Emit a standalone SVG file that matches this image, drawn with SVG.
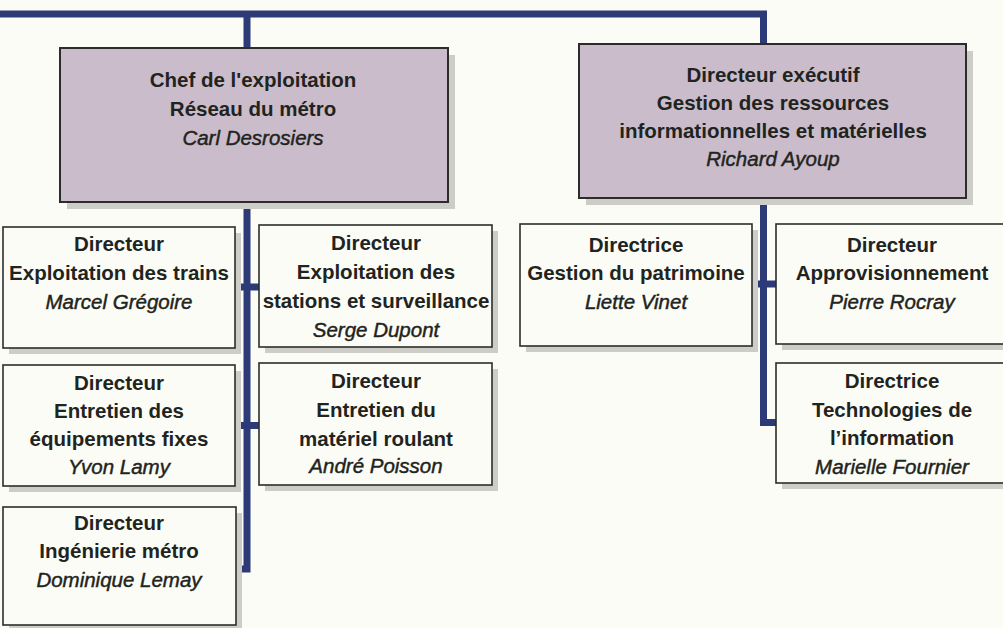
<svg xmlns="http://www.w3.org/2000/svg" width="1003" height="628" viewBox="0 0 1003 628">
<style>
.bg{fill:#fcfcf6}
.shadow{fill:#cdccc7}
.box{fill:#fcfcf6;stroke:#2a2d2a;stroke-width:1.6}
.head{fill:#cbbccb;stroke:#2a2d2a;stroke-width:2}
.conn{fill:none;stroke:#2c3b78;stroke-width:7;stroke-linejoin:miter;stroke-linecap:butt}
text{font-family:"Liberation Sans",Arial,sans-serif;font-size:20.5px;fill:#1f2420;text-anchor:middle}
.b{font-weight:bold}
.i{font-style:italic;stroke:#1f2420;stroke-width:0.45}
</style>
<rect class="bg" x="0" y="0" width="1003" height="628"/>
<g id="connectors">
<path class="conn" d="M0 14 H763.5 V44"/>
<path class="conn" d="M247 14 V48"/>
<path class="conn" d="M247 202 V569 H236"/>
<path class="conn" d="M235 287 H259"/>
<path class="conn" d="M235 425.5 H259"/>
<path class="conn" d="M763.5 198 V422.5 H776"/>
<path class="conn" d="M752 284 H776"/>
</g>
<g id="chef">
<rect class="shadow" x="67" y="55" width="388" height="154"/>
<rect class="head" x="60" y="48" width="388" height="154"/>
<text x="253" y="87" class="b">Chef de l'exploitation</text>
<text x="253" y="116" class="b">Réseau du métro</text>
<text x="253" y="145" class="i">Carl Desrosiers</text>
</g>
<g id="directeur-executif">
<rect class="shadow" x="586" y="51" width="387" height="154"/>
<rect class="head" x="579" y="44" width="387" height="154"/>
<text x="773" y="82" class="b">Directeur exécutif</text>
<text x="773" y="110" class="b">Gestion des ressources</text>
<text x="773" y="138" class="b">informationnelles et matérielles</text>
<text x="773" y="166" class="i">Richard Ayoup</text>
</g>
<g id="exploitation-trains">
<rect class="shadow" x="9" y="233" width="232" height="121"/>
<rect class="box" x="3" y="227" width="232" height="121"/>
<text x="119" y="251" class="b">Directeur</text>
<text x="119" y="280" class="b">Exploitation des trains</text>
<text x="119" y="309" class="i">Marcel Grégoire</text>
</g>
<g id="exploitation-stations">
<rect class="shadow" x="265" y="231" width="233" height="122"/>
<rect class="box" x="259" y="225" width="233" height="122"/>
<text x="376" y="250" class="b">Directeur</text>
<text x="376" y="279" class="b">Exploitation des</text>
<text x="376" y="308" class="b">stations et surveillance</text>
<text x="376" y="337" class="i">Serge Dupont</text>
</g>
<g id="entretien-equipements">
<rect class="shadow" x="9" y="371" width="232" height="121"/>
<rect class="box" x="3" y="365" width="232" height="121"/>
<text x="119" y="390" class="b">Directeur</text>
<text x="119" y="418" class="b">Entretien des</text>
<text x="119" y="446" class="b">équipements fixes</text>
<text x="119" y="474" class="i">Yvon Lamy</text>
</g>
<g id="entretien-materiel">
<rect class="shadow" x="265" y="369" width="233" height="122"/>
<rect class="box" x="259" y="363" width="233" height="122"/>
<text x="376" y="388" class="b">Directeur</text>
<text x="376" y="417" class="b">Entretien du</text>
<text x="376" y="446" class="b">matériel roulant</text>
<text x="376" y="473" class="i">André Poisson</text>
</g>
<g id="ingenierie">
<rect class="shadow" x="9" y="513" width="233" height="118"/>
<rect class="box" x="3" y="507" width="233" height="118"/>
<text x="119" y="530" class="b">Directeur</text>
<text x="119" y="558" class="b">Ingénierie métro</text>
<text x="119" y="587" class="i">Dominique Lemay</text>
</g>
<g id="patrimoine">
<rect class="shadow" x="526" y="230" width="232" height="122"/>
<rect class="box" x="520" y="224" width="232" height="122"/>
<text x="636" y="252" class="b">Directrice</text>
<text x="636" y="280" class="b">Gestion du patrimoine</text>
<text x="636" y="309" class="i">Liette Vinet</text>
</g>
<g id="approvisionnement">
<rect class="shadow" x="782" y="230" width="232" height="120"/>
<rect class="box" x="776" y="224" width="232" height="120"/>
<text x="892" y="252" class="b">Directeur</text>
<text x="892" y="280" class="b">Approvisionnement</text>
<text x="892" y="309" class="i">Pierre Rocray</text>
</g>
<g id="technologies">
<rect class="shadow" x="782" y="369" width="232" height="120"/>
<rect class="box" x="776" y="363" width="232" height="120"/>
<text x="892" y="388" class="b">Directrice</text>
<text x="892" y="417" class="b">Technologies de</text>
<text x="892" y="445" class="b">l’information</text>
<text x="892" y="474" class="i">Marielle Fournier</text>
</g>
</svg>
